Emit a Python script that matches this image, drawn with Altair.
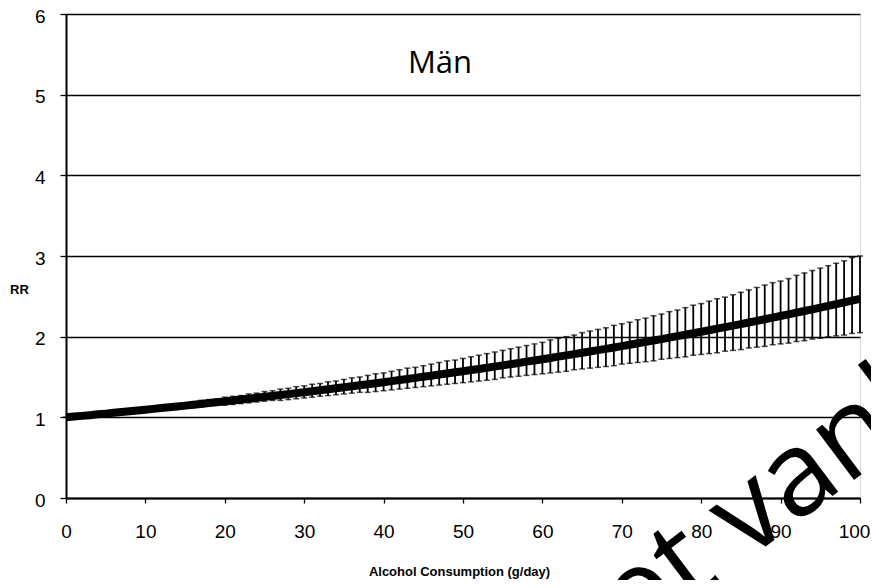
import altair as alt
import pandas as pd

# Alcohol consumption (g/day)
consumption = list(range(0, 101))

# Relative risk (central estimate)
rr = [1.000, 1.009, 1.018, 1.027, 1.037, 1.046, 1.056, 1.065, 1.075, 1.085,
      1.095, 1.105, 1.115, 1.125, 1.135, 1.145, 1.156, 1.166, 1.177, 1.188,
      1.198, 1.209, 1.220, 1.231, 1.242, 1.254, 1.265, 1.277, 1.288, 1.300,
      1.312, 1.324, 1.336, 1.348, 1.360, 1.372, 1.385, 1.398, 1.410, 1.423,
      1.436, 1.449, 1.462, 1.476, 1.489, 1.502, 1.516, 1.530, 1.544, 1.558,
      1.571, 1.586, 1.600, 1.615, 1.629, 1.644, 1.659, 1.674, 1.690, 1.705,
      1.720, 1.736, 1.752, 1.768, 1.784, 1.800, 1.816, 1.833, 1.849, 1.866,
      1.883, 1.900, 1.918, 1.935, 1.953, 1.970, 1.988, 2.006, 2.024, 2.043,
      2.061, 2.080, 2.099, 2.118, 2.137, 2.156, 2.176, 2.196, 2.216, 2.236,
      2.256, 2.276, 2.297, 2.318, 2.339, 2.360, 2.382, 2.403, 2.425, 2.447,
      2.469]

# Upper confidence limit
rr_upper = [1.00, 1.01, 1.02, 1.03, 1.04, 1.06, 1.07, 1.08, 1.09, 1.10,
            1.12, 1.13, 1.14, 1.15, 1.17, 1.18, 1.19, 1.21, 1.22, 1.23,
            1.25, 1.26, 1.27, 1.29, 1.30, 1.32, 1.33, 1.35, 1.36, 1.38,
            1.39, 1.41, 1.42, 1.44, 1.45, 1.47, 1.49, 1.50, 1.52, 1.54,
            1.55, 1.57, 1.59, 1.61, 1.62, 1.64, 1.66, 1.68, 1.70, 1.71,
            1.73, 1.75, 1.77, 1.79, 1.81, 1.83, 1.85, 1.87, 1.89, 1.91,
            1.93, 1.96, 1.98, 2.00, 2.02, 2.05, 2.07, 2.09, 2.11, 2.14,
            2.16, 2.18, 2.21, 2.23, 2.26, 2.28, 2.31, 2.33, 2.36, 2.39,
            2.41, 2.44, 2.47, 2.49, 2.52, 2.55, 2.58, 2.61, 2.64, 2.67,
            2.69, 2.72, 2.76, 2.79, 2.82, 2.85, 2.88, 2.91, 2.94, 2.98,
            3.00]

# Lower confidence limit
rr_lower = [1.00, 1.01, 1.01, 1.02, 1.03, 1.04, 1.04, 1.05, 1.06, 1.07,
            1.07, 1.08, 1.09, 1.10, 1.11, 1.11, 1.12, 1.13, 1.14, 1.15,
            1.15, 1.16, 1.17, 1.18, 1.19, 1.20, 1.21, 1.21, 1.22, 1.23,
            1.24, 1.25, 1.26, 1.27, 1.28, 1.29, 1.30, 1.31, 1.31, 1.32,
            1.33, 1.34, 1.35, 1.36, 1.37, 1.38, 1.39, 1.40, 1.41, 1.42,
            1.43, 1.44, 1.45, 1.46, 1.47, 1.49, 1.50, 1.51, 1.52, 1.53,
            1.54, 1.55, 1.56, 1.57, 1.59, 1.60, 1.61, 1.62, 1.63, 1.64,
            1.66, 1.67, 1.68, 1.69, 1.70, 1.72, 1.73, 1.74, 1.75, 1.77,
            1.78, 1.79, 1.80, 1.82, 1.83, 1.84, 1.86, 1.87, 1.88, 1.90,
            1.91, 1.92, 1.94, 1.95, 1.97, 1.98, 2.00, 2.01, 2.02, 2.04,
            2.05]

x_ticks = [0, 10, 20, 30, 40, 50, 60, 70, 80, 90, 100]
y_ticks = [0, 1, 2, 3, 4, 5, 6]

panel_label = ["Män"]
watermark = ["ket vanl"]

df = pd.DataFrame({"x": consumption, "rr": rr, "lo": rr_lower, "hi": rr_upper})

FONT = "Liberation Sans"

x_enc = alt.X(
    "x:Q",
    scale=alt.Scale(domain=[0, 100], nice=False, zero=False),
    axis=alt.Axis(
        values=x_ticks, format="d", title="Alcohol Consumption (g/day)", grid=False,
        labelFont=FONT, labelFontSize=19, labelColor="black", labelPadding=19,
        labelFlush=False,
        labelOffset={"condition": {"test": "datum.value >= 100", "value": -6}, "value": 0},
        tickSize=5, tickColor="black", tickWidth=1.3,
        domainColor="black", domainWidth=2,
        titleFont=FONT, titleFontSize=13, titleFontWeight="bold", titleColor="black",
        titleX=393, titleY=73, titleBaseline="middle", titleAnchor="middle",
    ),
)
y_scale = alt.Scale(domain=[0, 6], nice=False)
y_axis = alt.Axis(
    values=y_ticks, format="d", title="RR", grid=True, gridColor="black", gridWidth=1.4,
    gridOpacity=1, labelFlush=False, labelOffset=2,
    labelFont=FONT, labelFontSize=19, labelColor="black", labelPadding=15,
    tickSize=6, tickColor="black", tickWidth=1.3,
    domainColor="black", domainWidth=2,
    titleFont=FONT, titleFontSize=13, titleFontWeight="bold", titleColor="black",
    titleAngle=0, titleX=-47, titleY=275, titleAlign="center", titleBaseline="middle",
)

base = alt.Chart(df)

bars = base.mark_rule(color="black", strokeWidth=1.8).encode(
    x=x_enc,
    y=alt.Y("lo:Q", scale=y_scale, axis=y_axis),
    y2="hi:Q",
)
caps_hi = base.mark_tick(color="black", orient="horizontal", size=6, thickness=1.5).encode(
    x="x:Q", y="hi:Q"
)
caps_lo = base.mark_tick(color="black", orient="horizontal", size=6, thickness=1.5).encode(
    x="x:Q", y="lo:Q"
)
line = base.mark_line(color="black", strokeWidth=8).encode(x="x:Q", y="rr:Q")

label = alt.Chart(pd.DataFrame({"t": panel_label})).mark_text(
    font="Open Sans", fontSize=31, color="black", align="center", baseline="alphabetic"
).encode(x=alt.value(374), y=alt.value(58.7), text="t:N")

wm = alt.Chart(pd.DataFrame({"t": watermark})).mark_text(
    font="Open Sans", fontSize=118, color="black", align="left",
    baseline="alphabetic", angle=323
).encode(x=alt.value(520), y=alt.value(668), text="t:N")

chart = alt.layer(bars, caps_hi, caps_lo, line, label, wm).properties(
    width=794, height=484,
    autosize=alt.AutoSizeParams(type="none"),
    padding={"left": 58, "top": 6, "right": 11, "bottom": 82},
).configure_view(stroke="black", strokeWidth=1).configure(background="white")

chart.save("out.html", embed_options={"renderer": "svg", "actions": False})
